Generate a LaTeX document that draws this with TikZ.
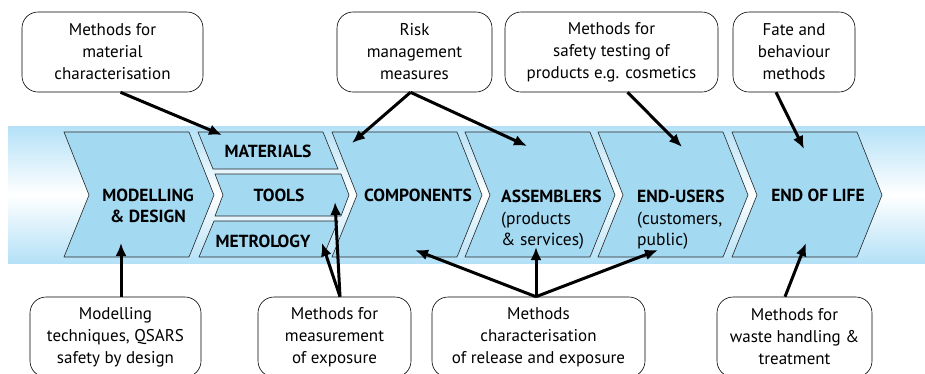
\documentclass[tikz,border=0pt]{standalone}
\usepackage{fontspec}
\setmainfont{PT Sans}
\usetikzlibrary{arrows.meta}
\definecolor{stageblue}{RGB}{164,217,242}
\definecolor{bandblue}{RGB}{180,225,247}

\begin{document}
\begin{tikzpicture}[x=1pt,y=-1pt,
    stage/.style={fill=stageblue,draw=black!85,line width=0.6pt},
    stagetext/.style={font=\fontsize{17.5}{21.5}\selectfont\bfseries,align=center,inner sep=0pt},
    methodbox/.style={draw,rounded corners=16pt,line width=0.6pt,align=center,
      font=\fontsize{17}{22}\selectfont,minimum height=80pt,inner sep=0pt},
    arrowline/.style={line width=3pt,-{Latex[length=13pt,width=11pt]}}]
        \useasboundingbox (0,0) rectangle (925,373);
        % Band
        \shade[top color=bandblue,bottom color=bandblue,middle color=white] (8,126) rectangle (925,263);
        % Stages
        \draw[stage] (64,132) -- (189,132) -- (214,195) -- (189,257) -- (64,257) -- (89,195) -- cycle;
        \draw[stage] (198,132) -- (323,132) -- (338,169) -- (213,169) -- cycle;
        \draw[stage] (215,174) -- (341,174) -- (349,195) -- (341,216) -- (215,216) -- (223,195) -- cycle;
        \draw[stage] (214,221) -- (338,221) -- (323,257) -- (199,257) -- cycle;
        \draw[stage] (332,132) -- (457,132) -- (482,195) -- (457,257) -- (332,257) -- (357,195) -- cycle;
        \draw[stage] (465,132) -- (590,132) -- (615,195) -- (590,257) -- (465,257) -- (490,195) -- cycle;
        \draw[stage] (598,132) -- (723,132) -- (748,195) -- (723,257) -- (598,257) -- (623,195) -- cycle;
        \draw[stage] (732,132) -- (857,132) -- (882,195) -- (857,257) -- (732,257) -- (757,195) -- cycle;
        % Stage labels
        \node[stagetext] (modelling) at (148,206) {MODELLING\\\& DESIGN};
        \node[stagetext] (materials) at (268,151) {MATERIALS};
        \node[stagetext] (tools) at (279,195) {TOOLS};
        \node[stagetext] (metrology) at (263,241) {METROLOGY};
        \node[stagetext] (components) at (418,195) {COMPONENTS};
        \node[stagetext,align=left,anchor=north west] (assemblers) at (501,190)
            {ASSEMBLERS\\\mdseries(products\\\mdseries\& services)};
        \node[stagetext,align=left,anchor=north west] (endusers) at (637,190)
            {END-USERS\\\mdseries(customers,\\\mdseries public)};
        \node[stagetext] (endoflife) at (818,195) {END OF LIFE};
        % Method boxes
        \node[methodbox,minimum width=181pt] (charac) at (112.5,52) {Methods for\\material\\characterisation};
        \node[methodbox,minimum width=155pt] (risk) at (414.5,52) {Risk\\management\\measures};
        \node[methodbox,minimum width=213pt] (safety) at (611.5,52) {Methods for\\safety testing of\\products e.g. cosmetics};
        \node[methodbox,minimum width=122pt] (fate) at (794,52) {Fate and\\behaviour\\methods};
        \node[methodbox,minimum width=171pt] (qsars) at (115.5,337) {Modelling\\techniques, QSARS\\safety by design};
        \node[methodbox,minimum width=153pt] (exposure) at (334.5,337) {Methods for\\measurement\\of exposure};
        \node[methodbox,minimum width=213pt] (release) at (538.5,337) {Methods\\characterisation\\of release and exposure};
        \node[methodbox,minimum width=155pt] (waste) at (794.5,337) {Methods for\\waste handling \&\\treatment};
        % Arrow tips
        \coordinate (materialsTip) at (222,135);
        \coordinate (componentsTip) at (352,143);
        \coordinate (assemblersTip) at (527,146);
        \coordinate (endusersTip) at (682,147);
        \coordinate (endoflifeTip) at (804,149);
        \coordinate (modellingTip) at (121,243);
        \coordinate (toolsTip) at (335,202);
        \coordinate (metrologyTip) at (322,243);
        \coordinate (releaseCompTip) at (415,250);
        \coordinate (releaseAssTip) at (536,247);
        \coordinate (releaseUserTip) at (658,250);
        \coordinate (wasteTip) at (806,243);
        % Arrows
        \draw[arrowline] ([xshift=8pt]charac.south) -- (materialsTip);
        \draw[arrowline] ([xshift=-4pt]risk.south) -- (componentsTip);
        \draw[arrowline] ([xshift=-4pt]risk.south) -- (assemblersTip);
        \draw[arrowline] ([xshift=16pt]safety.south) -- (endusersTip);
        \draw[arrowline] ([xshift=-18pt]fate.south) -- (endoflifeTip);
        \draw[arrowline] ([xshift=5.5pt]qsars.north) -- (modellingTip);
        \draw[arrowline] ([xshift=5.5pt]exposure.north) -- (toolsTip);
        \draw[arrowline] ([xshift=5.5pt]exposure.north) -- (metrologyTip);
        \draw[arrowline] ([xshift=-2.5pt]release.north) -- (releaseCompTip);
        \draw[arrowline] ([xshift=-2.5pt]release.north) -- (releaseAssTip);
        \draw[arrowline] ([xshift=-2.5pt]release.north) -- (releaseUserTip);
        \draw[arrowline] ([xshift=-9.5pt]waste.north) -- (wasteTip);
    \end{tikzpicture}
\end{document}
